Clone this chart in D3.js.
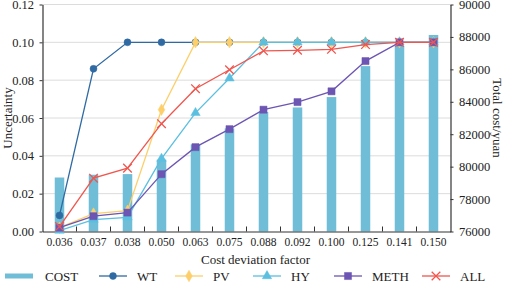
<!DOCTYPE html>
<html>
<head>
<meta charset="utf-8">
<script src="https://cdn.jsdelivr.net/npm/d3@7"></script>
<style>
  body { margin: 0; background: #fff; }
</style>
</head>
<body>
<div id="chart"></div>
<script>
// data
const factors = ["0.036", "0.037", "0.038", "0.050", "0.063", "0.075", "0.088", "0.092", "0.100", "0.125", "0.141", "0.150"];
const cost = [79330, 79500, 79540, 80430, 81370, 82360, 83370, 83650, 84290, 86200, 87440, 88120];
const wt = [0.0085, 0.086, 0.100, 0.100, 0.100, 0.100, 0.100, 0.100, 0.100, 0.100, 0.100, 0.100];
const pv = [0.002, 0.0095, 0.011, 0.0644, 0.100, 0.100, 0.100, 0.100, 0.100, 0.100, 0.100, 0.100];
const hy = [0.0005, 0.0063, 0.0075, 0.0385, 0.0627, 0.081, 0.100, 0.100, 0.100, 0.100, 0.100, 0.100];
const meth = [0.002, 0.0081, 0.0100, 0.0303, 0.0446, 0.0541, 0.0644, 0.0684, 0.0741, 0.0901, 0.100, 0.100];
const all = [0.0026, 0.0282, 0.0335, 0.057, 0.0755, 0.0855, 0.0955, 0.0958, 0.0963, 0.0988, 0.100, 0.100];
const leftTicks = [0, 0.02, 0.04, 0.06, 0.08, 0.10, 0.12];
const rightTicks = [76000, 78000, 80000, 82000, 84000, 86000, 88000, 90000];

const FONT = "'Liberation Serif', 'Times New Roman', Times, serif";
const W = 505, H = 286;
const margin = { top: 4.5, right: 54.5, bottom: 54.5, left: 42.5 };
const width = W - margin.left - margin.right,
    height = H - margin.top - margin.bottom;

const root = d3.select("#chart").append("svg")
    .attr("width", W).attr("height", H)
    .style("display", "block")
    .style("overflow", "visible");
const svg = root.append("g")
    .attr("transform", `translate(${margin.left},${margin.top})`);

const x = d3.scaleBand().domain(factors).range([0, width]).padding(0);
const yL = d3.scaleLinear().domain([0, 0.12]).range([height, 0]);
const yR = d3.scaleLinear().domain([76000, 90000]).range([height, 0]);

// grid
svg.append("g").selectAll("line")
    .data(leftTicks.slice(1))
    .join("line")
    .attr("x1", 0).attr("x2", width)
    .attr("y1", d => yL(d)).attr("y2", d => yL(d))
    .attr("stroke", "#dcdcdc").attr("stroke-width", 1);

// bars
const barW = x.bandwidth() * 0.28;
svg.append("g").selectAll("rect")
    .data(cost)
    .join("rect")
    .attr("x", (d, i) => x(factors[i]) + x.bandwidth() / 2 - barW / 2)
    .attr("y", d => yR(d))
    .attr("width", barW)
    .attr("height", d => height - yR(d))
    .attr("fill", "#6fbdd7");

// axes
const axL = svg.append("g")
    .call(d3.axisLeft(yL).tickValues(leftTicks).tickFormat(d3.format(".2f")).tickSize(3).tickSizeOuter(0));
const axR = svg.append("g")
    .attr("transform", `translate(${width},0)`)
    .call(d3.axisRight(yR).tickValues(rightTicks).tickFormat(d3.format("d")).tickSize(3).tickSizeOuter(0));
const axB = svg.append("g")
    .attr("transform", `translate(0,${height})`)
    .call(d3.axisBottom(x).tickSize(0).tickPadding(6));

[axL, axR, axB].forEach(a => {
    a.attr("font-family", null).attr("font-size", null);
    a.select(".domain").attr("stroke", "#333").attr("stroke-width", 1.2);
    a.selectAll(".tick line").attr("stroke", "#333");
});
axL.selectAll("text").attr("font-size", 12.5).attr("dx", "-0.2em");
axR.selectAll("text").attr("font-size", 12.5).attr("dx", "0.2em");
axB.selectAll("text").attr("font-size", 11.5);

// inward ticks between categories on the bottom axis
svg.append("g").selectAll("line")
    .data(factors.slice(1))
    .join("line")
    .attr("x1", d => x(d)).attr("x2", d => x(d))
    .attr("y1", height).attr("y2", height - 5)
    .attr("stroke", "#333");

// axis titles
svg.append("text")
    .attr("transform", `translate(${-31},${height / 2}) rotate(-90)`)
    .attr("text-anchor", "middle")
    .attr("font-size", 13)
    .text("Uncertainty");
svg.append("text")
    .attr("transform", `translate(${width + 42},${height / 2}) rotate(90)`)
    .attr("text-anchor", "middle")
    .attr("font-size", 13)
    .text("Total cost/yuan");
svg.append("text")
    .attr("x", width / 2 + 9).attr("y", height + 32)
    .attr("text-anchor", "middle")
    .attr("font-size", 13)
    .text("Cost deviation factor");

// lines
const series = [
    { name: "WT", values: wt, color: "#2f6aa3", symbol: d3.symbolCircle, size: 38 },
    { name: "PV", values: pv, color: "#fdcf6a", symbol: d3.symbolDiamond, size: 38 },
    { name: "HY", values: hy, color: "#5bbfe0", symbol: d3.symbolTriangle, size: 38 },
    { name: "METH", values: meth, color: "#6c55b3", symbol: d3.symbolSquare, size: 50 },
    { name: "ALL", values: all, color: "#f0564e", symbol: d3.symbolX, size: 50 }
];

const cx = i => x(factors[i]) + x.bandwidth() / 2;
const line = d3.line().x((d, i) => cx(i)).y(d => yL(d));

series.forEach(s => {
    const g = svg.append("g");
    g.append("path")
        .datum(s.values)
        .attr("fill", "none")
        .attr("stroke", s.color)
        .attr("stroke-width", 1.3)
        .attr("d", line);
    g.selectAll("path.pt")
        .data(s.values)
        .join("path")
        .attr("class", "pt")
        .attr("transform", (d, i) => `translate(${cx(i)},${yL(d)})`)
        .attr("d", d3.symbol().type(s.symbol).size(s.size))
        .attr("fill", s.symbol === d3.symbolX ? "none" : s.color)
        .attr("stroke", s.color)
        .attr("stroke-width", s.symbol === d3.symbolX ? 1.3 : 0.5);
});

// legend
const legendX = [5, 99, 175, 253, 334, 422];
const legY = H - margin.top - 10;
const leg = svg.append("g").attr("transform", `translate(${-margin.left},0)`);
leg.append("rect")
    .attr("x", legendX[0]).attr("y", legY - 2.5)
    .attr("width", 28).attr("height", 5)
    .attr("fill", "#6fbdd7");
leg.append("text")
    .attr("x", legendX[0] + 40).attr("y", legY + 5)
    .attr("font-size", 13)
    .text("COST");
series.forEach((s, k) => {
    const lx = legendX[k + 1];
    leg.append("line")
        .attr("x1", lx).attr("x2", lx + 28)
        .attr("y1", legY).attr("y2", legY)
        .attr("stroke", s.color).attr("stroke-width", 1.3);
    leg.append("path")
        .attr("transform", `translate(${lx + 14},${legY})`)
        .attr("d", d3.symbol().type(s.symbol).size(s.size))
        .attr("fill", s.symbol === d3.symbolX ? "none" : s.color)
        .attr("stroke", s.color)
        .attr("stroke-width", s.symbol === d3.symbolX ? 1.3 : 0.5);
    leg.append("text")
        .attr("x", lx + 38).attr("y", legY + 5)
        .attr("font-size", 13)
        .text(s.name);
});

// serif text everywhere
root.selectAll("text").style("font-family", FONT).style("fill", "#222");
</script>
</body>
</html>
